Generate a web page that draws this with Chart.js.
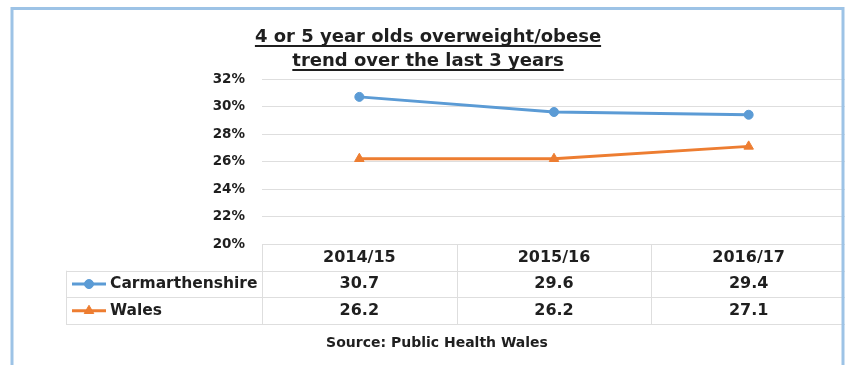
<!DOCTYPE html>
<html>
<head>
<meta charset="utf-8">
<script src="https://cdn.jsdelivr.net/npm/chart.js@4.4.0/dist/chart.umd.min.js"></script>
<style>
  html, body { margin: 0; padding: 0; background: #ffffff; }
  #grafico-container { position: relative; width: 846px; height: 365px; }
</style>
</head>
<body>
<div id="grafico-container"><canvas id="myChart" width="846" height="365"></canvas></div>
<script>
// Datos del grafico
var periodos = ['2014/15', '2015/16', '2016/17'];
var carmarthenshire = [30.7, 29.6, 29.4];
var wales = [26.2, 26.2, 27.1];
var ticksY = [20, 22, 24, 26, 28, 30, 32];
var titulo = ['4 or 5 year olds overweight/obese', 'trend over the last 3 years'];
var fuente = 'Source: Public Health Wales';

var FUENTE = 'DejaVu Sans';
var COLOR_TEXTO = '#1f1f1f';
var COLOR_LINEAS = '#dedede';

// Plugin que dibuja titulo, tabla de datos, fuente y marco
var tablaDatos = {
    id: 'tablaDatos',
    afterDraw: function (chart) {
        var ctx = chart.ctx;
        var area = chart.chartArea;
        var xScale = chart.scales.x;
        var n = periodos.length;
        var ancho = (area.right - area.left) / n;
        var alto = 26.7;
        var y0 = area.bottom;
        var izq = 66;

        ctx.save();

        // Lineas de la tabla
        ctx.strokeStyle = COLOR_LINEAS;
        ctx.lineWidth = 1;
        ctx.beginPath();
        for (var r = 1; r <= 3; r++) {
            var yy = Math.round(y0 + r * alto) + 0.5;
            ctx.moveTo(izq, yy);
            ctx.lineTo(area.right, yy);
        }
        for (var i = 0; i < n; i++) {
            var xb = Math.round(xScale.getPixelForValue(i) - ancho / 2) + 0.5;
            ctx.moveTo(xb, y0);
            ctx.lineTo(xb, y0 + 3 * alto);
        }
        ctx.moveTo(izq + 0.5, y0 + alto);
        ctx.lineTo(izq + 0.5, y0 + 3 * alto);
        ctx.stroke();

        // Cabecera y valores
        ctx.fillStyle = COLOR_TEXTO;
        ctx.textAlign = 'center';
        ctx.textBaseline = 'middle';
        ctx.font = 'bold 16px ' + FUENTE;
        chart.data.datasets.forEach(function (ds, d) {
            ds.data.forEach(function (v, i) {
                ctx.fillText(v.toFixed(1), xScale.getPixelForValue(i), y0 + (d + 1.5) * alto);
            });
        });
        periodos.forEach(function (p, i) {
            ctx.fillText(p, xScale.getPixelForValue(i), y0 + 0.5 * alto);
        });

        // Leyenda dentro de la tabla
        chart.data.datasets.forEach(function (ds, d) {
            var yc = y0 + (d + 1.5) * alto;
            ctx.strokeStyle = ds.borderColor;
            ctx.fillStyle = ds.backgroundColor;
            ctx.lineWidth = 3;
            ctx.beginPath();
            ctx.moveTo(72, yc);
            ctx.lineTo(106, yc);
            ctx.stroke();
            ctx.lineWidth = 1;
            Chart.helpers.drawPoint(ctx, {
                pointStyle: ds.pointStyle,
                radius: ds.pointRadius,
                borderWidth: 1
            }, 89, yc);
            ctx.fillStyle = COLOR_TEXTO;
            ctx.textAlign = 'left';
            ctx.font = 'bold 15.5px ' + FUENTE;
            ctx.fillText(ds.label, 110, yc);
        });

        // Titulo subrayado
        ctx.textAlign = 'center';
        ctx.textBaseline = 'alphabetic';
        ctx.font = 'bold 18px ' + FUENTE;
        ctx.fillStyle = COLOR_TEXTO;
        ctx.strokeStyle = COLOR_TEXTO;
        ctx.lineWidth = 2;
        titulo.forEach(function (linea, k) {
            var base = 42 + k * 24;
            ctx.fillText(linea, 428, base);
            var w = ctx.measureText(linea).width;
            ctx.beginPath();
            ctx.moveTo(428 - w / 2, base + 4);
            ctx.lineTo(428 + w / 2, base + 4);
            ctx.stroke();
        });

        // Fuente
        ctx.font = 'bold 14px ' + FUENTE;
        ctx.textBaseline = 'middle';
        ctx.fillText(fuente, 437, 343);

        // Fuera del marco queda en blanco
        ctx.fillStyle = '#ffffff';
        ctx.fillRect(845, 0, chart.width - 845, chart.height);

        // Marco azul
        ctx.strokeStyle = '#9dc3e6';
        ctx.lineWidth = 3;
        ctx.beginPath();
        ctx.moveTo(12, 365);
        ctx.lineTo(12, 8.5);
        ctx.lineTo(843, 8.5);
        ctx.lineTo(843, 365);
        ctx.stroke();

        ctx.restore();
    }
};

new Chart('myChart', {
    type: 'line',
    data: {
        labels: periodos,
        datasets: [{
            label: 'Carmarthenshire',
            data: carmarthenshire,
            borderColor: '#5b9bd5',
            backgroundColor: '#5b9bd5',
            borderWidth: 3,
            pointStyle: 'circle',
            pointRadius: 4.5,
            pointBorderWidth: 1,
            tension: 0
        }, {
            label: 'Wales',
            data: wales,
            borderColor: '#ed7d31',
            backgroundColor: '#ed7d31',
            borderWidth: 3,
            pointStyle: 'triangle',
            pointRadius: 5.5,
            pointBorderWidth: 1,
            tension: 0
        }]
    },
    options: {
        responsive: false,
        animation: false,
        devicePixelRatio: 1,
        layout: { autoPadding: false, padding: { top: 79, bottom: 121, left: 0, right: 0 } },
        scales: {
            x: { display: false, offset: true },
            y: {
                min: ticksY[0],
                max: ticksY[ticksY.length - 1],
                afterFit: function (scale) { scale.width = 262; },
                border: { display: false },
                grid: { color: COLOR_LINEAS, drawTicks: false },
                ticks: {
                    stepSize: ticksY[1] - ticksY[0],
                    padding: 17,
                    color: COLOR_TEXTO,
                    font: { family: FUENTE, weight: 'bold', size: 13.5 },
                    callback: function (v) { return v + '%'; }
                }
            }
        },
        plugins: {
            legend: { display: false },
            tooltip: { enabled: false },
            title: { display: false }
        }
    },
    plugins: [tablaDatos]
});
</script>
</body>
</html>
